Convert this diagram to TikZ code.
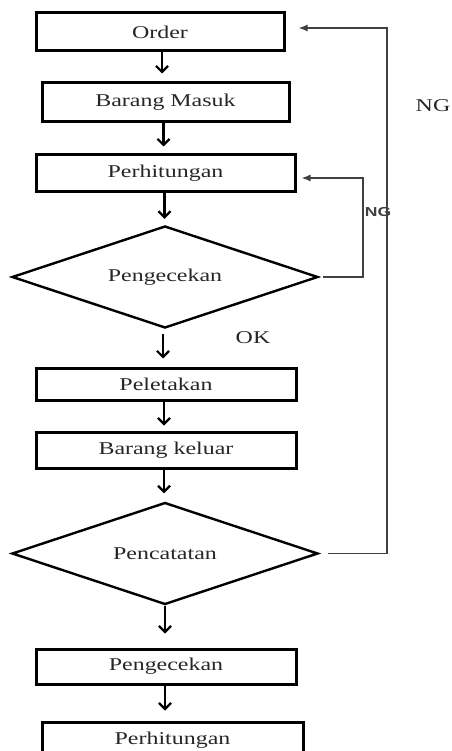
\documentclass[tikz,border=0pt]{standalone}
\usepackage{fontspec}
\setmainfont{Liberation Serif}[FakeStretch=1.33]
\newfontfamily\ngfont{Liberation Sans}[FakeStretch=1.35]
\usetikzlibrary{arrows.meta,shapes.geometric}
\tikzset{
  box/.style={draw,line width=3pt,inner sep=0pt,text=black!85,
    font=\fontsize{18}{21}\selectfont},
  check/.style={draw,diamond,line width=2.4pt,inner sep=0pt,aspect=3,
    minimum width=306pt,minimum height=102pt,text=black!85,
    font=\fontsize{18}{21}\selectfont},
  flow/.style={line width=2.2pt,->},
  back/.style={line width=1.4pt,draw=black!75,-{Latex[length=9pt,width=7pt]}},
  lbl/.style={text=black!85,font=\fontsize{18}{21}\selectfont}
}
\begin{document}
\begin{tikzpicture}[x=1pt,y=-1pt,>={Straight Barb[length=6pt,width=12pt]}]
\useasboundingbox (0,0) rectangle (451,751);
\clip (0,0) rectangle (451,751);
% boxes
\node[box,minimum width=248pt,minimum height=38pt] (order) at (160,32) {Order};
\node[box,minimum width=247pt,minimum height=39pt] (masuk) at (165.5,102.5) {Barang Masuk};
\node[box,minimum width=259pt,minimum height=37pt] (hitung) at (165.5,173.5) {Perhitungan};
\node[check] (cek) at (165,277) {Pengecekan};
\node[box,minimum width=260pt,minimum height=32pt] (letak) at (166,384) {Peletakan};
\node[box,minimum width=260pt,minimum height=36pt] (keluar) at (166,450) {Barang keluar};
\node[check] (catat) at (165,553.5) {Pencatatan};
\node[box,minimum width=260pt,minimum height=35pt] (cekdua) at (166,666.5) {Pengecekan};
\node[box,minimum width=261pt,minimum height=36pt] (hitungdua) at (172.5,740) {Perhitungan};
% main flow
\draw[flow,shorten >=8pt] ([xshift=2pt]order.south) -- ([xshift=2pt]order.south |- masuk.north);
\draw[flow,shorten >=7pt] ([xshift=-2pt]masuk.south) -- ([xshift=-2pt]masuk.south |- hitung.north);
\draw[flow,shorten >=6pt] ([xshift=-1pt]hitung.south) -- ([xshift=-1pt]hitung.south |- cek.north);
\draw[flow,shorten <=5pt,shorten >=8pt] ([xshift=-2pt]cek.south) -- ([xshift=-2pt]cek.south |- letak.north);
\draw[flow,shorten >=5pt] ([xshift=-2pt]letak.south) -- ([xshift=-2pt]letak.south |- keluar.north);
\draw[flow,shorten >=8pt] ([xshift=-2pt]keluar.south) -- ([xshift=-2pt]keluar.south |- catat.north);
\draw[flow,shorten >=14pt] (catat.south) -- (catat.south |- cekdua.north);
\draw[flow,shorten >=10pt] ([xshift=-1pt]cekdua.south) -- ([xshift=-1pt]cekdua.south |- hitungdua.north);
% loops back
\coordinate (turnin) at (363,0);
\coordinate (turnout) at (387,0);
\draw[back,shorten <=4pt,shorten >=5pt] (cek.east) -- (cek.east -| turnin) |- ([yshift=-4.5pt]hitung.east);
\draw[back,shorten <=9pt,shorten >=13pt] (catat.east) -- (catat.east -| turnout) |- ([yshift=4pt]order.east);
\node[text=black!75,font=\ngfont\bfseries\fontsize{13}{15}\selectfont] (nginner) at (378,212) {NG};
\node[lbl] (ngouter) at (433,106) {NG};
\node[lbl] (ok) at (253,338) {OK};
\end{tikzpicture}
\end{document}
